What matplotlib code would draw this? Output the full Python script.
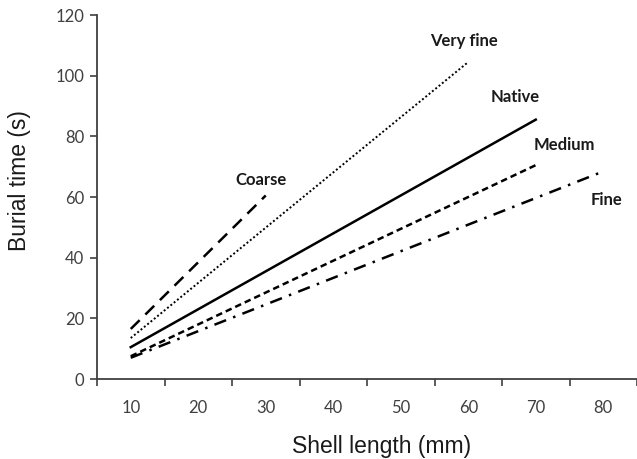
import matplotlib
matplotlib.use("Agg")
import matplotlib.pyplot as plt

# Data (line endpoints)
series_names = ["Coarse", "Very fine", "Native", "Medium", "Fine"]
coarse_x = [10, 30]
coarse_y = [16.5, 60.5]
veryfine_x = [10, 60]
veryfine_y = [13.5, 104.5]
native_x = [10, 70]
native_y = [10.5, 85.5]
medium_x = [10, 70]
medium_y = [7.5, 70.5]
fine_x = [10, 79.5]
fine_y = [7.0, 68.0]
x_tick_labels = [10, 20, 30, 40, 50, 60, 70, 80]
y_ticks = [0, 20, 40, 60, 80, 100, 120]

fig = plt.figure(figsize=(6.37, 4.59), dpi=100)
ax = fig.add_axes([97/637, 80/459, 1 - 97/637, (379-15)/459])

lw = 1.8
ax.plot(coarse_x, coarse_y, color="black", lw=lw, linestyle=(0, (5, 3.2)))
ax.plot(veryfine_x, veryfine_y, color="black", lw=1.4, linestyle=(0, (1, 1.2)))
ax.plot(native_x, native_y, color="black", lw=lw, linestyle="-")
ax.plot(medium_x, medium_y, color="black", lw=lw, linestyle=(0, (2.6, 1.6)))
ax.plot(fine_x, fine_y, color="black", lw=lw, linestyle=(0, (5, 3, 1, 3)))

label_kw = dict(fontsize=12, fontweight="bold", family=["Lato", "DejaVu Sans"],
                ha="center", va="center", color="#1a1a1a")
ax.text(29.3, 65.5, "Coarse", **label_kw)
ax.text(59.3, 111.5, "Very fine", **label_kw)
ax.text(67.0, 93.0, "Native", **label_kw)
ax.text(74.2, 77.0, "Medium", **label_kw)
ax.text(80.5, 59.0, "Fine", **label_kw)

ax.set_xlim(5, 84.5)
ax.set_ylim(0, 120)
ax.set_yticks(y_ticks)
ax.set_xticks([x - 5 for x in x_tick_labels] + [85])
ax.set_xticklabels([])
ax.set_xticks(x_tick_labels, minor=True)
ax.set_xticklabels([str(v) for v in x_tick_labels], minor=True)
ax.tick_params(axis="x", which="minor", length=0, pad=15, labelsize=12,
               labelcolor="#404040")
ax.tick_params(axis="x", which="major", length=5, width=1.2, color="#404040", direction="out")
ax.tick_params(axis="y", length=5, width=1.2, color="#404040", labelsize=12,
               labelcolor="#404040", pad=4)
for lab in ax.get_xticklabels(minor=True) + ax.get_yticklabels():
    lab.set_family(["Lato", "DejaVu Sans"])

for s in ["top", "right"]:
    ax.spines[s].set_visible(False)
for s in ["left", "bottom"]:
    ax.spines[s].set_color("#404040")
    ax.spines[s].set_linewidth(1.3)

ax.set_xlabel("Shell length (mm)", fontsize=16.5, family=["Liberation Sans", "DejaVu Sans"],
              color="#1a1a1a", va="center")
ax.set_ylabel("Burial time (s)", fontsize=16.5, family=["Liberation Sans", "DejaVu Sans"],
              color="#1a1a1a", va="center")
ax.xaxis.set_label_coords((382 - 97) / 540, (379 - 447) / 364)
ax.yaxis.set_label_coords((20 - 97) / 540, (379 - 181) / 364)

fig.savefig("out.png", dpi=100)
